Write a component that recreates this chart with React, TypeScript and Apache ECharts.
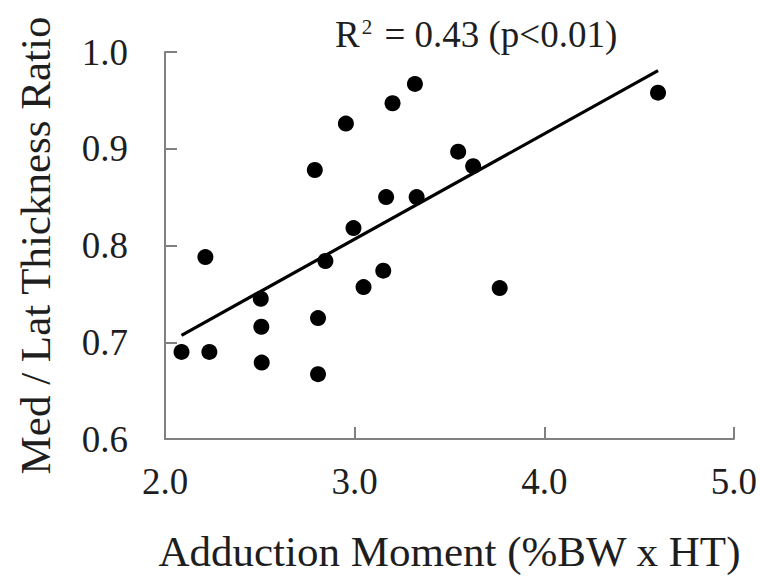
import React, { useEffect, useRef } from "react";
import * as echarts from "echarts";

// Adduction moment (%BW x HT)
const xValues = [
  2.087, 2.234, 2.213, 2.505, 2.508, 2.51, 2.79, 2.807, 2.807, 2.846, 2.954,
  2.994, 3.047, 3.151, 3.166, 3.2, 3.318, 3.327, 3.546, 3.625, 3.765, 4.6,
];
// Med / Lat thickness ratio
const yValues = [
  0.69, 0.69, 0.788, 0.745, 0.716, 0.679, 0.878, 0.725, 0.667, 0.784, 0.926,
  0.818, 0.757, 0.774, 0.85, 0.947, 0.967, 0.85, 0.897, 0.882, 0.756, 0.958,
];
const xTicks = [2, 3, 4, 5];
const yTicks = [0.6, 0.7, 0.8, 0.9, 1.0];
const annotation = "R² = 0.43 (p<0.01)";
const xName = "Adduction Moment (%BW x HT)";
const yName = "Med / Lat Thickness Ratio";

const FONT = "'Liberation Serif', 'Times New Roman', serif";

function regression(xs: number[], ys: number[]) {
  const n = xs.length;
  const mx = xs.reduce((a, b) => a + b, 0) / n;
  const my = ys.reduce((a, b) => a + b, 0) / n;
  let sxy = 0;
  let sxx = 0;
  for (let i = 0; i < n; i++) {
    sxy += (xs[i] - mx) * (ys[i] - my);
    sxx += (xs[i] - mx) * (xs[i] - mx);
  }
  const slope = sxy / sxx;
  const intercept = my - slope * mx;
  return { slope, intercept };
}

export default function App() {
  const ref = useRef<HTMLDivElement>(null);
  useEffect(() => {
    if (!ref.current) return;
    const chart = echarts.init(ref.current, undefined, { renderer: "svg" });
    const points = xValues.map((x, i) => [x, yValues[i]]);
    const { slope, intercept } = regression(xValues, yValues);
    const x0 = Math.min(...xValues);
    const x1 = Math.max(...xValues);
    const trend = [
      [x0, intercept + slope * x0],
      [x1, intercept + slope * x1],
    ];
    const axisColor = "#808080";
    const textColor = "#1e1e1e";
    chart.setOption({
      animation: false,
      backgroundColor: "#ffffff",
      title: {
        text: "{r|R}{s|2}{r| = 0.43 (p<0.01)}",
        left: 330,
        top: 11,
        textStyle: {
          fontFamily: FONT,
          fontWeight: "normal",
          color: textColor,
          rich: {
            r: {
              fontFamily: FONT,
              fontSize: 37,
              lineHeight: 37,
              fontWeight: "normal",
              color: textColor,
            },
            s: {
              fontFamily: FONT,
              fontSize: 21,
              lineHeight: 20,
              fontWeight: "normal",
              color: textColor,
              verticalAlign: "top",
              padding: [0, 3, 0, 2],
            },
          },
        },
      },
      grid: { left: 165, top: 52, width: 572, height: 390 },
      xAxis: {
        type: "value",
        min: xTicks[0],
        max: xTicks[xTicks.length - 1],
        interval: 1,
        name: xName,
        nameLocation: "middle",
        nameGap: 91,
        nameTextStyle: { fontFamily: FONT, fontSize: 43, color: textColor },
        axisLine: { show: true, lineStyle: { color: axisColor, width: 2 } },
        axisTick: {
          show: true,
          inside: true,
          length: 12,
          lineStyle: { color: axisColor, width: 2 },
        },
        axisLabel: {
          fontFamily: FONT,
          fontSize: 37,
          color: textColor,
          margin: 24,
          formatter: (v: number) => v.toFixed(1),
        },
        splitLine: { show: false },
      },
      yAxis: {
        type: "value",
        min: yTicks[0],
        max: yTicks[yTicks.length - 1],
        interval: 0.1,
        name: yName,
        nameLocation: "middle",
        nameGap: 108,
        nameTextStyle: { fontFamily: FONT, fontSize: 43, color: textColor },
        axisLine: { show: true, lineStyle: { color: axisColor, width: 2 } },
        axisTick: {
          show: true,
          inside: true,
          length: 12,
          lineStyle: { color: axisColor, width: 2 },
        },
        axisLabel: {
          fontFamily: FONT,
          fontSize: 37,
          color: textColor,
          margin: 37,
          formatter: (v: number) => v.toFixed(1),
        },
        splitLine: { show: false },
      },
      series: [
        {
          type: "line",
          data: trend,
          showSymbol: false,
          symbol: "none",
          lineStyle: { color: "#000000", width: 3.2 },
          silent: true,
          z: 2,
        },
        {
          type: "scatter",
          data: points,
          symbol: "circle",
          symbolSize: 16,
          itemStyle: { color: "#000000", opacity: 1 },
          z: 3,
        },
      ],
    });
    return () => chart.dispose();
  }, []);
  return (
    <div
      ref={ref}
      style={{ position: "absolute", left: 0, top: 0, width: 760, height: 578 }}
      aria-label={annotation}
    />
  );
}
